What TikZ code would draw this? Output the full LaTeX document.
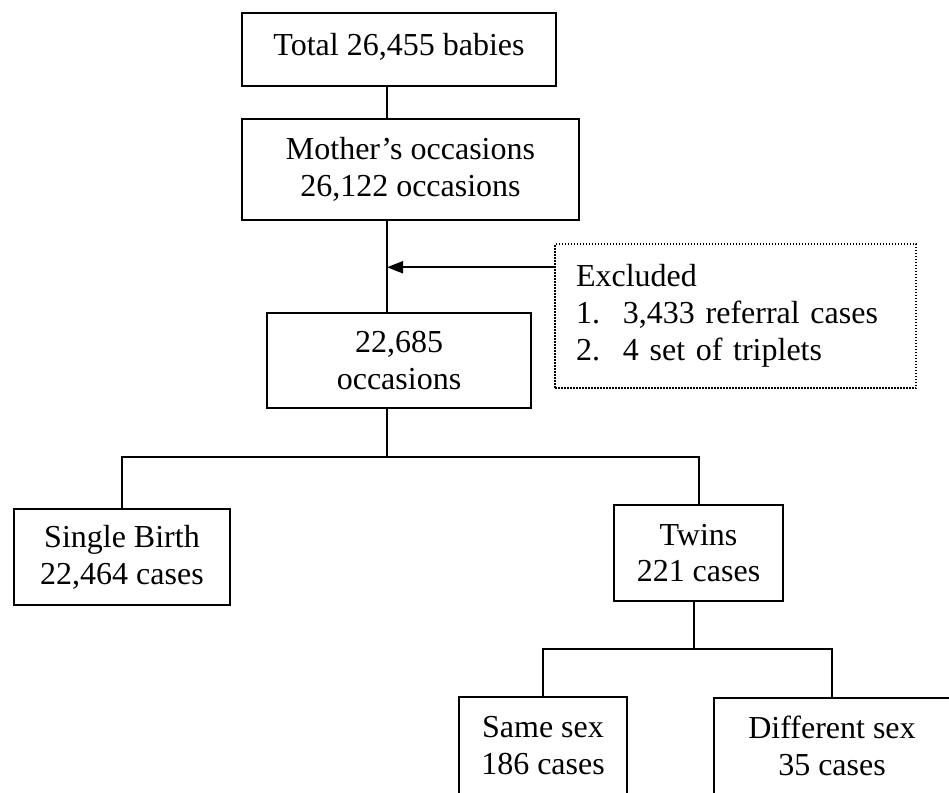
\documentclass[tikz,border=0pt]{standalone}
\usepackage{fontspec}
\setmainfont{Liberation Serif}
\usetikzlibrary{arrows.meta}
\begin{document}
\begin{tikzpicture}[
    x=1pt,y=-1pt,
    font=\fontsize{32}{36.8}\selectfont,
    box/.style={draw,line width=2pt,inner sep=0pt,align=center},
    excluded box/.style={draw,line width=1.5pt,dash pattern=on 1.5pt off 1.5pt,
      inner xsep=21pt,inner ysep=0pt,align=left},
    link/.style={line width=2pt}
  ]
  \useasboundingbox (0,0) rectangle (949,792);
  \node [box,minimum width=314pt,minimum height=73pt,text depth=11pt]
    (total) at (399,49.5) {Total 26,455 babies};
  \node [box,minimum width=337pt,minimum height=101pt]
    (mother) at (410.5,169.5) {Mother’s occasions\\26,122 occasions};
  \node [box,minimum width=264pt,minimum height=95pt]
    (kept) at (399,360.5) {22,685\\occasions};
  \node [excluded box,text width=319pt,minimum height=144pt]
    (excl) at (735.5,316)
    {Excluded\\\makebox[47pt][l]{1.}3,433 referral cases\\\makebox[47pt][l]{2.}4 set of triplets};
  \node [box,minimum width=216pt,minimum height=96pt]
    (single) at (122,557) {Single Birth\\22,464 cases};
  \node [box,minimum width=169pt,minimum height=96pt]
    (twins) at (698.5,553) {Twins\\221 cases};
  \node [box,minimum width=168pt,minimum height=104pt,text depth=8pt]
    (same) at (543,749) {Same sex\\186 cases};
  \node [box,minimum width=236pt,minimum height=104pt,text depth=8pt]
    (diff) at (832,750) {Different sex\\35 cases};
  \coordinate (stem) at (387,0);
  \coordinate (split) at (387,457);
  \coordinate (twin split) at (694,649);
  \draw [link] (total.south -| stem) -- (mother.north -| stem);
  \draw [link] (mother.south -| stem) -- (kept.north -| stem);
  \draw [link,-{Triangle[length=16pt,width=12pt]}]
    ([yshift=-24pt]excl.north west) coordinate (excl in)
    -- (excl in -| stem)
  ;
  \draw [link] (kept.south -| stem) -- (split);
  \draw [link] (single.north) |- (split) -| (twins.north);
  \draw [link] (twins.south -| twin split) -- (twin split);
  \draw [link] (same.north) |- (twin split) -| (diff.north);
\end{tikzpicture}
\end{document}
